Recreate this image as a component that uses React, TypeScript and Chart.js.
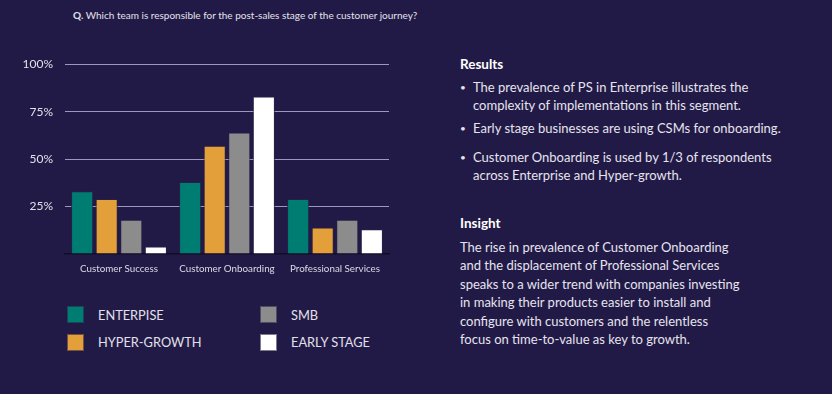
import React, { useEffect, useRef } from "react";
import { Chart, registerables } from "chart.js";

Chart.register(...registerables);

const categories = ["Customer Success", "Customer Onboarding", "Professional Services"];
const seriesNames = ["ENTERPISE", "HYPER-GROWTH", "SMB", "EARLY STAGE"];
const enterprise = [33, 38, 29];
const hyperGrowth = [29, 57, 14];
const smb = [18, 64, 18];
const earlyStage = [4, 83, 13];
const yTicks = [0, 25, 50, 75, 100];
const colors = ["#007d73", "#e29f3a", "#8c8c8c", "#ffffff"];

const BG = "#221a46";
const FONT = "Lato, 'Open Sans', sans-serif";

const resultsBullets = [
  ["The prevalence of PS in Enterprise illustrates the", "complexity of implementations in this segment."],
  ["Early stage businesses are using CSMs for onboarding."],
  ["Customer Onboarding is used by 1/3 of respondents", "across Enterprise and Hyper-growth."],
];
const insightLines = [
  "The rise in prevalence of Customer Onboarding",
  "and the displacement of Professional Services",
  "speaks to a wider trend with companies investing",
  "in making their products easier to install and",
  "configure with customers and the relentless",
  "focus on time-to-value as key to growth.",
];

export default function App() {
  const ref = useRef<HTMLCanvasElement>(null);
  useEffect(() => {
    if (!ref.current) return;
    const series = [enterprise, hyperGrowth, smb, earlyStage];
    const chart = new Chart(ref.current, {
      type: "bar",
      data: {
        labels: categories,
        datasets: series.map((d, i) => ({
          label: seriesNames[i],
          data: d,
          backgroundColor: colors[i],
          borderColor: "rgba(40,34,70,0.8)",
          borderWidth: 1,
          categoryPercentage: 0.91,
          barPercentage: 0.9,
        })),
      },
      options: {
        animation: false,
        responsive: false,
        maintainAspectRatio: false,
        layout: { padding: { top: 8, right: 6, left: 0, bottom: 0 } },
        plugins: { legend: { display: false }, tooltip: { enabled: false } },
        scales: {
          x: {
            grid: { display: false, drawTicks: false },
            border: { display: true, color: "#120d26", width: 1.5 },
            ticks: { color: "#dcdae6", font: { family: FONT, size: 9.8 }, padding: 9, maxRotation: 0, minRotation: 0, autoSkip: false },
            afterFit: (s: any) => { s.height = 31; },
          },
          y: {
            min: 0,
            max: 100,
            afterBuildTicks: (s: any) => { s.ticks = yTicks.map((v) => ({ value: v })); },
            grid: {
              drawTicks: false,
              color: (ctx: any) => (ctx.tick && ctx.tick.value === 0 ? "rgba(0,0,0,0)" : "#9d97bd"),
              lineWidth: 1,
            },
            border: { display: false },
            ticks: {
              color: "#e2e0ea",
              font: { family: FONT, size: 12 },
              padding: 12,
              callback: (v: any) => (v === 0 ? "" : v + "%"),
            },
            afterFit: (s: any) => { s.width = 65; },
          },
        },
      },
    });
    return () => chart.destroy();
  }, []);

  const textColor = "#e6e4ee";
  return (
    <div style={{ position: "fixed", left: 0, top: 0, width: 832, height: 394, background: BG, fontFamily: FONT, overflow: "hidden" }}>
      <div style={{ position: "absolute", left: 73, top: 7, fontSize: 10, lineHeight: "16px", color: "#e4e2ec", whiteSpace: "nowrap" }}>
        <b>Q.</b> Which team is responsible for the post-sales stage of the customer journey?
      </div>
      <div style={{ position: "absolute", left: 0, top: 45, width: 395, height: 240 }}>
        <canvas ref={ref} width={395} height={240} style={{ width: 395, height: 240, display: "block" }} />
      </div>
      {seriesNames.map((n, i) => {
        const col = i < 2 ? 0 : 1;
        const row = i % 2;
        return (
          <div key={n} style={{ position: "absolute", left: 67 + col * 193, top: 306 + row * 27.5, height: 17, display: "flex", alignItems: "center" }}>
            <div style={{ width: 17, height: 17, background: colors[i], boxShadow: "inset 0 0 0 1px rgba(40,34,70,0.6)" }} />
            <div style={{ marginLeft: 14, fontSize: 12.8, color: "#e2e0ea", whiteSpace: "nowrap" }}>{n}</div>
          </div>
        );
      })}
      <div style={{ position: "absolute", left: 460, top: 55, fontSize: 13.5, lineHeight: "18px", fontWeight: 700, color: "#ffffff" }}>Results</div>
      {resultsBullets.map((lines, i) => {
        const tops = [77.5, 119.3, 147.7];
        return (
          <div key={i} style={{ position: "absolute", left: 460, top: tops[i], fontSize: 13, lineHeight: "18.3px", color: textColor, whiteSpace: "nowrap" }}>
            <span style={{ position: "absolute", left: 0, top: 0, fontSize: 10 }}>•</span>
            <div style={{ marginLeft: 13 }}>
              {lines.map((l, j) => (<div key={j}>{l}</div>))}
            </div>
          </div>
        );
      })}
      <div style={{ position: "absolute", left: 460, top: 213.5, fontSize: 13.5, lineHeight: "18px", fontWeight: 700, color: "#ffffff" }}>Insight</div>
      <div style={{ position: "absolute", left: 460, top: 237.5, fontSize: 13, lineHeight: "18.5px", color: textColor, whiteSpace: "nowrap" }}>
        {insightLines.map((l, j) => (<div key={j}>{l}</div>))}
      </div>
    </div>
  );
}
